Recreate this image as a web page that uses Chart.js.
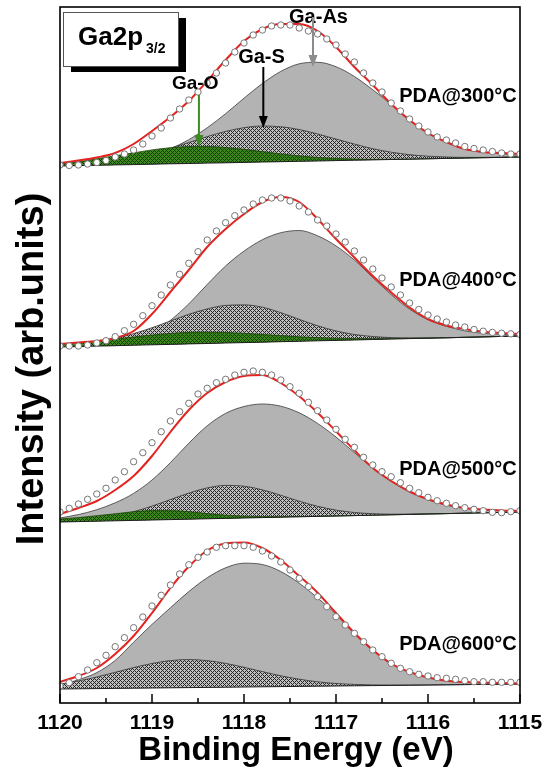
<!DOCTYPE html>
<html>
<head>
<meta charset="utf-8">
<script src="https://cdn.jsdelivr.net/npm/chart.js@4.4.1/dist/chart.umd.min.js"></script>
<style>
  html, body { margin: 0; padding: 0; background: #fff; }
  canvas { display: block; }
</style>
</head>
<body>
<canvas id="xps" width="551" height="769"></canvas>
<script>
// Binding-energy grids (eV): fitted curves every 0.2 eV, measured scan every 0.1 eV
const fitEnergy = [1120.0, 1119.8, 1119.6, 1119.4, 1119.2, 1119.0, 1118.8, 1118.6, 1118.4, 1118.2,
  1118.0, 1117.8, 1117.6, 1117.4, 1117.2, 1117.0, 1116.8, 1116.6, 1116.4, 1116.2,
  1116.0, 1115.8, 1115.6, 1115.4, 1115.2, 1115.0];
const scanEnergy = [1120.0, 1119.9, 1119.8, 1119.7, 1119.6, 1119.5, 1119.4, 1119.3, 1119.2, 1119.1,
  1119.0, 1118.9, 1118.8, 1118.7, 1118.6, 1118.5, 1118.4, 1118.3, 1118.2, 1118.1,
  1118.0, 1117.9, 1117.8, 1117.7, 1117.6, 1117.5, 1117.4, 1117.3, 1117.2, 1117.1,
  1117.0, 1116.9, 1116.8, 1116.7, 1116.6, 1116.5, 1116.4, 1116.3, 1116.2, 1116.1,
  1116.0, 1115.9, 1115.8, 1115.7, 1115.6, 1115.5, 1115.4, 1115.3, 1115.2, 1115.1, 1115.0];
const xTickValues = [1115, 1116, 1117, 1118, 1119, 1120];

// Anneal temperatures and the vertical offset of each spectrum in the stack (arb. units)
const annealLabels = ['PDA@300\u00B0C', 'PDA@400\u00B0C', 'PDA@500\u00B0C', 'PDA@600\u00B0C'];
const stackOffset = [537, 356, 181, 14];

// ---- PDA 300 C ----
const background300 = [0, 0.4, 0.7, 1.1, 1.4, 1.8, 2.2, 2.5, 2.9, 3.2, 3.6, 4.0, 4.3, 4.7, 5.0, 5.4, 5.8, 6.1, 6.5, 6.8, 7.2, 7.6, 7.9, 8.3, 8.6, 9.0];
const gaAs300 = [0.3, 0.6, 1.3, 2.6, 5.1, 9.0, 15.1, 23.8, 35.3, 49.1, 64.2, 78.5, 90.3, 97.5, 98.7, 93.9, 83.7, 70.1, 55.1, 39, 25.5, 16, 9, 5.5, 3.5, 1.7];
const gaS300 = [0.7, 1.3, 2.4, 4.3, 7.0, 10.8, 15.6, 21.0, 26.5, 31.4, 34.7, 36.0, 34.9, 31.8, 27.0, 21.6, 16.1, 11.2, 7.3, 4.5, 2.6, 1.4, 0.7, 0.3, 0.2, 0.1];
const gaO300 = [2.2, 3.8, 6.5, 9.1, 11.8, 14.3, 16.1, 17.0, 16.7, 15.3, 13.1, 10.4, 7.8, 5.4, 3.5, 2.1, 1.2, 0.6, 0.3, 0.1, 0, 0, 0, 0, 0, 0];
const envelope300 = [3, 5.5, 8.5, 13, 22, 35, 49, 65, 85, 106, 125, 137, 142, 142, 135, 119, 99, 81, 62, 46, 33, 24, 17, 14, 13, 12];
const scan300 = [1, 0.5, 1, 2, 3.5, 5.5, 9, 12, 16, 22, 30, 38, 48, 57, 66, 74, 83, 93, 103, 114,
  123, 131, 136, 140, 141, 141, 138, 135, 132, 127, 121, 112, 104, 93, 83, 74, 63, 55, 47, 40,
  34, 29, 26, 23, 19.5, 17.5, 16, 14.5, 13, 12, 12];

// ---- PDA 400 C ----
const background400 = [0, 0.4, 0.9, 1.3, 1.8, 2.2, 2.6, 3.1, 3.5, 4.0, 4.4, 4.8, 5.3, 5.7, 6.2, 6.6, 7.0, 7.5, 7.9, 8.4, 8.8, 9.2, 9.7, 10.1, 10.6, 11.0];
const gaAs400 = [0.3, 0.6, 1.2, 2.5, 5, 11, 24, 40, 59, 77, 91.5, 102.5, 109, 110.8, 105, 94.5, 80, 62, 44.5, 29.5, 18.5, 11.5, 6.5, 3.5, 2, 1];
const gaS400 = [1.1, 2.3, 4.2, 7.3, 11.6, 17.1, 23.4, 29.6, 34.6, 37.6, 37.7, 35.0, 29, 22, 15, 9.5, 5.5, 3, 1.5, 0.7, 0.3, 0.1, 0, 0, 0, 0];
const gaO400 = [2.4, 3.4, 4.9, 6.6, 8.2, 9.8, 11, 11.6, 11.4, 10.6, 9.3, 7.7, 6.1, 4.5, 3.2, 2.1, 1.4, 0.9, 0.5, 0.3, 0.1, 0, 0, 0, 0, 0];
const envelope400 = [3, 4.5, 6, 9, 16, 33, 55, 77, 100, 118, 133, 145, 150, 145, 128, 108, 89.5, 71, 54.5, 39.5, 28, 21.5, 18, 15.3, 14, 13];
const scan400 = [1, 1, 1, 2, 4, 6.3, 10.3, 16.3, 22.7, 31.3, 41.3, 52, 62, 72.7, 83.7, 95.3, 107, 116, 124.3, 131.3,
  137, 143, 147, 149, 149, 146, 141, 135, 127, 121, 113, 105, 96, 87, 78, 69, 60, 52, 44, 37.5,
  32, 28, 25, 22, 20, 17.5, 15.8, 14.6, 13.8, 13.2, 12.5];

// ---- PDA 500 C ----
const background500 = [0, 0.4, 0.8, 1.2, 1.6, 2.0, 2.4, 2.8, 3.2, 3.6, 4.0, 4.4, 4.8, 5.2, 5.6, 6.0, 6.4, 6.8, 7.2, 7.6, 8.0, 8.4, 8.8, 9.2, 9.6, 10.0];
const gaAs500 = [4, 7, 11.5, 18, 27, 40, 57, 76, 93, 105, 111.5, 113.6, 111, 104, 93, 79, 63, 47, 33.5, 22.5, 14.5, 8.5, 5, 3, 1.8, 1];
const gaS500 = [0.5, 1.2, 2.5, 4.9, 8.7, 13.9, 20.0, 26.1, 30.9, 33.0, 31.8, 27.8, 21.9, 15.6, 10.1, 5.9, 3.1, 1.5, 0.6, 0.3, 0.1, 0, 0, 0, 0, 0];
const gaO500 = [3, 4, 5.5, 7, 8.7, 9.5, 9, 7.6, 5.2, 3.2, 1.8, 1, 0.5, 0.2, 0.1, 0, 0, 0, 0, 0, 0, 0, 0, 0, 0, 0];
const envelope500 = [8, 14, 21, 32, 46, 66, 90, 112, 129, 140, 146, 147, 139, 125.7, 109.3, 90.7, 71.7, 54, 41, 30.5, 22.7, 17.5, 14, 12.5, 11.5, 11];
const scan500 = [10, 13.7, 18, 22.7, 28, 33.7, 42, 50.3, 60.3, 69.3, 79.3, 90.3, 101, 110.3, 118.7, 128, 133.7, 139.3, 142.7, 147,
  149.7, 151, 149.7, 147, 142, 135.3, 128.7, 119.7, 111.3, 102, 92.7, 82.7, 74.7, 64.7, 57, 50.3, 45.3, 39.3, 33.7, 29.3,
  24.7, 21.3, 18.7, 16.3, 14.3, 12.7, 11.3, 9.7, 9.3, 10.3, 11.3];

// ---- PDA 600 C (no Ga-O component) ----
const background600 = [0, 0.2, 0.4, 0.6, 0.8, 1.0, 1.2, 1.4, 1.6, 1.8, 2.0, 2.2, 2.4, 2.6, 2.8, 3.0, 3.2, 3.4, 3.6, 3.8, 4.0, 4.2, 4.4, 4.6, 4.8, 5.0];
const gaAs600 = [4, 9, 16, 28, 46, 63.6, 80, 96, 109.6, 119.4, 123.8, 122.3, 115.1, 103.2, 88.2, 71.8, 52, 35, 21.5, 13, 7.5, 4, 2.5, 1.5, 0.8, 0.4];
const gaS600 = [4.9, 7.8, 11.6, 16.1, 20.6, 24.5, 27.2, 28, 26.8, 23.8, 19.7, 15.2, 10.8, 7.2, 4.4, 2.5, 1.4, 0.7, 0.3, 0.1, 0, 0, 0, 0, 0, 0];
const envelope600 = [7, 13, 21, 35, 53, 76, 101, 122.5, 138.5, 145.5, 146.5, 141, 129, 113, 96.3, 76, 56, 39, 25.5, 17, 11.5, 8.3, 7, 6.5, 6, 5.7];
const scan600 = [3, 6.3, 12.3, 19, 26.3, 33.7, 42.3, 51.3, 61.3, 72, 83, 93.7, 104, 115, 124.3, 131.7, 137, 141.7, 143.3, 143.3,
  143.3, 141.7, 138, 133, 127, 119, 110.7, 102.3, 92.3, 82.3, 72.3, 64, 55.7, 47.3, 39, 32.3, 25.7, 20.7, 17.3, 14.7,
  13, 11.3, 10.7, 9.7, 8.3, 7.3, 7.3, 6.7, 6.7, 6.7, 6.7];

// One row per spectrum, assembled from the arrays above
const spectra = [
  { bg: background300, gaAs: gaAs300, gaS: gaS300, gaO: gaO300, fit: envelope300, scan: scan300 },
  { bg: background400, gaAs: gaAs400, gaS: gaS400, gaO: gaO400, fit: envelope400, scan: scan400 },
  { bg: background500, gaAs: gaAs500, gaS: gaS500, gaO: gaO500, fit: envelope500, scan: scan500 },
  { bg: background600, gaAs: gaAs600, gaS: gaS600, gaO: null,   fit: envelope600, scan: scan600 }
];

const FONT = "'Liberation Sans', Arial, Helvetica, sans-serif";

// Cross-hatch fills for the Ga-S and Ga-O components
function hatch(light, dark) {
  const c = document.createElement('canvas');
  c.width = 4; c.height = 4;
  const g = c.getContext('2d');
  g.fillStyle = light; g.fillRect(0, 0, 4, 4);
  g.fillStyle = dark;
  for (let px = 0; px < 4; px++) {
    for (let py = 0; py < 4; py++) {
      if ((px + py) % 4 === 0 || (px - py + 4) % 4 === 0) g.fillRect(px, py, 1, 1);
    }
  }
  return g.createPattern(c, 'repeat');
}
const ctx = document.getElementById('xps').getContext('2d');
const hatchGray = hatch('#c0c0c0', '#262626');
const hatchGreen = hatch('#3d8a1a', '#163a06');

// Build the line datasets: background, three components, envelope and measured points
const datasets = [];
spectra.forEach((s, p) => {
  const off = stackOffset[p];
  const bgIndex = datasets.length;
  datasets.push({
    data: fitEnergy.map((e, i) => ({ x: e, y: off + s.bg[i] })),
    borderColor: '#1e1e1e', borderWidth: 1, pointRadius: 0, fill: false, order: 3
  });
  const component = (vals, fillStyle, edge, order) => datasets.push({
    data: fitEnergy.map((e, i) => ({ x: e, y: off + s.bg[i] + vals[i] })),
    borderColor: edge, borderWidth: 0.8, backgroundColor: fillStyle,
    fill: { target: bgIndex, above: fillStyle, below: fillStyle },
    pointRadius: 0, cubicInterpolationMode: 'monotone', order
  });
  component(s.gaAs, '#b3b3b3', '#3a3a3a', 6);
  component(s.gaS, hatchGray, '#333333', 5);
  if (s.gaO) component(s.gaO, hatchGreen, '#1d420c', 4);
  datasets.push({
    data: fitEnergy.map((e, i) => ({ x: e, y: off + s.fit[i] })),
    borderColor: '#e2231f', borderWidth: 2, pointRadius: 0, fill: false,
    cubicInterpolationMode: 'monotone', order: 2
  });
  datasets.push({
    data: scanEnergy.map((e, i) => ({ x: e, y: off + s.scan[i] })),
    showLine: false, pointRadius: 3.2, pointBorderWidth: 1,
    pointBorderColor: '#757575', pointBackgroundColor: '#ffffff', order: 1
  });
});

// Peak labels with arrows (energy in eV, heights in the stacked intensity units)
const peakTags = [
  { text: 'Ga-O',  size: 19, E: 1118.53, v: 614, arrowE: 1118.49, from: 608, to: 556, color: '#3d8b1f' },
  { text: 'Ga-S',  size: 20, E: 1117.81, v: 640, arrowE: 1117.79, from: 636, to: 575, color: '#000000' },
  { text: 'Ga-As', size: 20, E: 1117.19, v: 680, arrowE: 1117.25, from: 686, to: 636, color: '#8c8c8c' }
];
const annealTagE = 1115.035;
const annealTagV = [601, 417, 228, 53];

function arrow(c, x, y1, y2, color) {
  c.strokeStyle = color; c.fillStyle = color; c.lineWidth = 2;
  c.beginPath(); c.moveTo(x, y1); c.lineTo(x, y2 - 10); c.stroke();
  c.beginPath(); c.moveTo(x - 4.5, y2 - 12); c.lineTo(x + 4.5, y2 - 12); c.lineTo(x, y2); c.closePath(); c.fill();
}

const decorations = {
  id: 'decorations',
  afterDatasetsDraw(chart) {
    const c = chart.ctx;
    const a = chart.chartArea;
    const xs = chart.scales.x, ys = chart.scales.y;
    c.save();

    // inward tick marks on the energy axis
    c.strokeStyle = '#000'; c.lineWidth = 1.5;
    xs.ticks.forEach(t => {
      const px = xs.getPixelForValue(t.value);
      const len = Number.isInteger(t.value) ? 9 : 5;
      c.beginPath(); c.moveTo(px, a.bottom); c.lineTo(px, a.bottom - len); c.stroke();
    });

    // frame
    c.lineWidth = 1.6;
    c.strokeRect(a.left, a.top, a.right - a.left, a.bottom - a.top);

    // core-level tag with drop shadow
    c.fillStyle = '#000';
    c.fillRect(a.left + 11, a.top + 11, 115, 54);
    c.fillStyle = '#fff';
    c.fillRect(a.left + 3, a.top + 5, 115, 54);
    c.strokeStyle = '#555'; c.lineWidth = 1;
    c.strokeRect(a.left + 3.5, a.top + 5.5, 115, 54);
    c.fillStyle = '#000'; c.textAlign = 'left'; c.textBaseline = 'alphabetic';
    c.font = 'bold 26px ' + FONT;
    c.fillText('Ga2p', a.left + 18, a.top + 38);
    const w = c.measureText('Ga2p').width;
    c.font = 'bold 14px ' + FONT;
    c.fillText('3/2', a.left + 18 + w + 3, a.top + 46);

    // component labels and arrows
    peakTags.forEach(t => {
      c.font = 'bold ' + t.size + 'px ' + FONT;
      c.fillStyle = '#000'; c.textAlign = 'center';
      c.fillText(t.text, xs.getPixelForValue(t.E), ys.getPixelForValue(t.v));
      arrow(c, xs.getPixelForValue(t.arrowE), ys.getPixelForValue(t.from), ys.getPixelForValue(t.to), t.color);
    });

    // anneal temperature labels
    c.font = 'bold 20px ' + FONT; c.fillStyle = '#000'; c.textAlign = 'right';
    annealLabels.forEach((txt, i) => {
      c.fillText(txt, xs.getPixelForValue(annealTagE), ys.getPixelForValue(annealTagV[i]));
    });

    // axis titles
    c.textAlign = 'center';
    c.font = 'bold 33px ' + FONT;
    c.fillText('Binding Energy (eV)', (a.left + a.right) / 2 + 6, 760);
    c.save();
    c.translate(43, (a.top + a.bottom) / 2 + 14);
    c.rotate(-Math.PI / 2);
    c.font = 'bold 38px ' + FONT;
    c.fillText('Intensity (arb.units)', 0, 0);
    c.restore();

    c.restore();
  }
};

new Chart(ctx, {
  type: 'line',
  data: { datasets },
  options: {
    responsive: false,
    animation: false,
    devicePixelRatio: 1,
    events: [],
    layout: { padding: { left: 60, right: 31, top: 7, bottom: 0 } },
    plugins: { legend: { display: false }, tooltip: { enabled: false } },
    scales: {
      x: {
        type: 'linear', reverse: true, min: 1115, max: 1120,
        grid: { display: false, drawTicks: false },
        border: { display: false },
        ticks: {
          stepSize: 0.5, autoSkip: false, maxRotation: 0, padding: 8,
          color: '#000', font: { family: FONT, size: 21, weight: 'bold' },
          callback: (v) => xTickValues.includes(v) ? String(v) : ''
        },
        afterFit(scale) { scale.height = 66; }
      },
      y: { display: false, min: 0, max: 696 }
    }
  },
  plugins: [decorations]
});
</script>
</body>
</html>
